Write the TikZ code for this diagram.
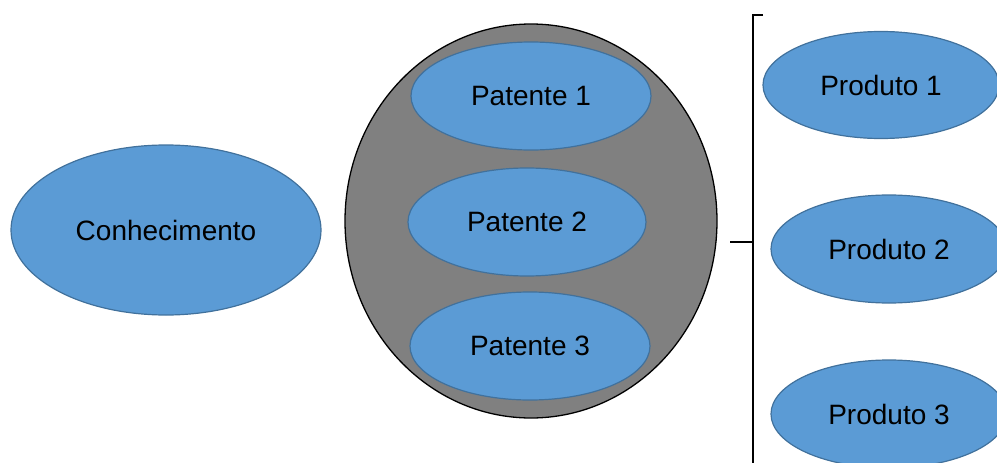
\documentclass[tikz,border=0pt]{standalone}
\usepackage{fontspec}
\setmainfont{Liberation Sans}
\usetikzlibrary{shapes.geometric}
\definecolor{blobfill}{HTML}{5B9BD5}
\definecolor{blobline}{HTML}{41719C}
\definecolor{poolfill}{HTML}{808080}
\tikzset{
  blob/.style={ellipse, draw=blobline, fill=blobfill, line width=1.2pt, inner sep=0pt,
    font=\fontsize{28}{33}\selectfont},
  pool/.style={ellipse, draw=black, fill=poolfill, line width=1.3pt, inner sep=0pt},
  brace/.style={line width=2.8pt}
}
\begin{document}
\begin{tikzpicture}[x=1pt,y=-1pt]
\useasboundingbox (0,0) rectangle (997,463);
\node[blob, minimum width=310pt, minimum height=170pt] (conh) at (166,230) {Conhecimento};
\node[pool, minimum width=372pt, minimum height=394pt] (pool) at (531,221) {};
\node[blob, minimum width=240pt, minimum height=108pt] (pat1) at (531,96) {Patente 1};
\node[blob, minimum width=238pt, minimum height=108pt] (pat2) at (527,222) {Patente 2};
\node[blob, minimum width=240pt, minimum height=108pt] (pat3) at (530,346) {Patente 3};
\node[blob, minimum width=236pt, minimum height=107pt] (prod1) at (881,85) {Produto 1};
\node[blob, minimum width=236pt, minimum height=108pt] (prod2) at (889,249) {Produto 2};
\node[blob, minimum width=236pt, minimum height=108pt] (prod3) at (889,414) {Produto 3};
% bracket
\coordinate (btop) at (763,15);
\coordinate (bcorner) at (753,15);
\coordinate (bmid) at (753,242);
\coordinate (btick) at (730,242);
\coordinate (bbot) at (753,470);
\draw[brace] (btop) -- (bcorner) -- (bbot);
\draw[brace] (btick) -- (bmid);
\end{tikzpicture}
\end{document}
